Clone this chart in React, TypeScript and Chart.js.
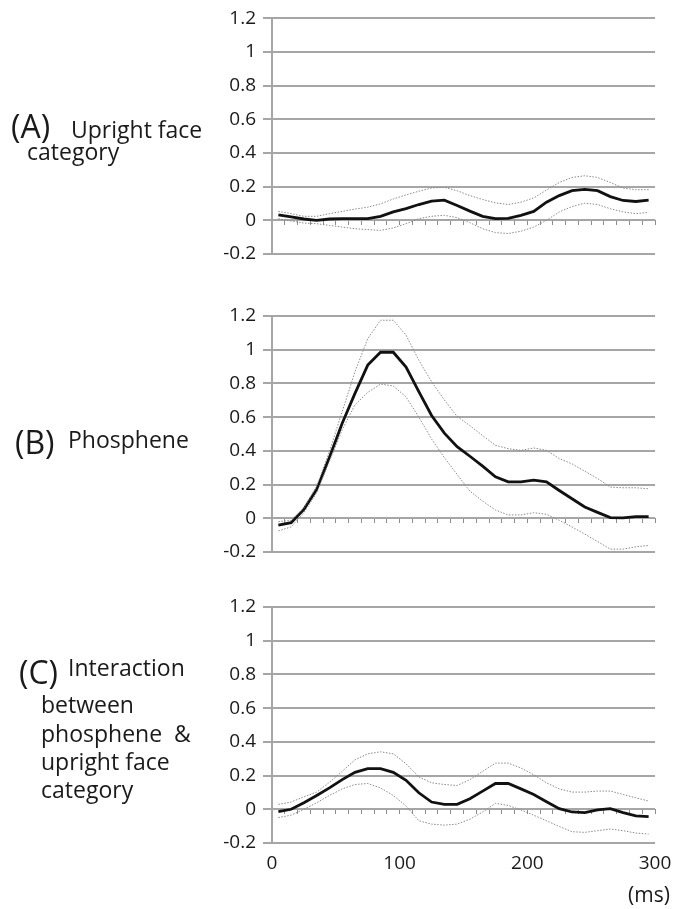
import React, { useEffect, useRef } from "react";
import { Chart, registerables } from "chart.js";

Chart.register(...registerables);

// Time points (ms), one per 10 ms bin
const TIMES_MS = [5, 15, 25, 35, 45, 55, 65, 75, 85, 95, 105, 115, 125, 135, 145, 155, 165, 175, 185, 195, 205, 215, 225, 235, 245, 255, 265, 275, 285, 295];

// (A) Upright face category
const A_MEAN = [0.033, 0.02, 0.008, 0.0, 0.008, 0.01, 0.01, 0.01, 0.024, 0.05, 0.07, 0.094, 0.114, 0.12, 0.088, 0.055, 0.024, 0.01, 0.012, 0.03, 0.053, 0.108, 0.147, 0.176, 0.184, 0.176, 0.141, 0.118, 0.112, 0.12];
const A_UPPER = [0.053, 0.04, 0.024, 0.024, 0.04, 0.053, 0.067, 0.078, 0.098, 0.127, 0.151, 0.173, 0.192, 0.196, 0.176, 0.147, 0.124, 0.104, 0.094, 0.108, 0.133, 0.18, 0.225, 0.255, 0.265, 0.255, 0.225, 0.192, 0.182, 0.182];
const A_LOWER = [0.01, -0.004, -0.016, -0.02, -0.03, -0.04, -0.05, -0.055, -0.06, -0.045, -0.02, 0.01, 0.024, 0.03, 0.016, -0.014, -0.05, -0.073, -0.078, -0.065, -0.04, 0.0, 0.05, 0.082, 0.102, 0.094, 0.069, 0.05, 0.04, 0.047];

// (B) Phosphene
const B_MEAN = [-0.041, -0.026, 0.053, 0.171, 0.362, 0.564, 0.741, 0.909, 0.985, 0.985, 0.897, 0.751, 0.61, 0.505, 0.425, 0.368, 0.309, 0.246, 0.216, 0.216, 0.226, 0.216, 0.165, 0.116, 0.067, 0.035, 0.004, 0.002, 0.01, 0.01];
const B_UPPER = [-0.02, -0.012, 0.063, 0.191, 0.397, 0.633, 0.869, 1.066, 1.175, 1.175, 1.086, 0.938, 0.81, 0.702, 0.604, 0.55, 0.49, 0.433, 0.413, 0.403, 0.417, 0.403, 0.354, 0.323, 0.279, 0.236, 0.185, 0.181, 0.181, 0.175];
const B_LOWER = [-0.075, -0.051, 0.033, 0.151, 0.338, 0.525, 0.673, 0.747, 0.796, 0.785, 0.72, 0.6, 0.47, 0.36, 0.26, 0.161, 0.102, 0.049, 0.02, 0.02, 0.033, 0.024, -0.012, -0.051, -0.094, -0.138, -0.183, -0.183, -0.169, -0.161];

// (C) Interaction between phosphene & upright face category
const C_MEAN = [-0.014, 0.0, 0.039, 0.082, 0.127, 0.176, 0.219, 0.241, 0.241, 0.219, 0.172, 0.098, 0.043, 0.029, 0.029, 0.063, 0.108, 0.153, 0.153, 0.121, 0.088, 0.045, 0.004, -0.016, -0.02, -0.004, 0.004, -0.02, -0.039, -0.043];
const C_UPPER = [0.029, 0.043, 0.074, 0.102, 0.16, 0.225, 0.294, 0.329, 0.341, 0.329, 0.27, 0.192, 0.157, 0.147, 0.141, 0.176, 0.225, 0.274, 0.274, 0.245, 0.205, 0.157, 0.121, 0.102, 0.102, 0.108, 0.108, 0.088, 0.068, 0.049];
const C_LOWER = [-0.049, -0.035, 0.0, 0.039, 0.082, 0.121, 0.147, 0.153, 0.127, 0.082, 0.02, -0.068, -0.088, -0.094, -0.088, -0.059, -0.016, 0.035, 0.023, -0.004, -0.035, -0.068, -0.102, -0.133, -0.137, -0.127, -0.117, -0.127, -0.141, -0.147];

// Axis ticks
const Y_TICKS = [-0.2, 0, 0.2, 0.4, 0.6, 0.8, 1, 1.2];
const X_TICK_LABELS = [0, 100, 200, 300];
const X_MINOR_TICKS = [0, 10, 20, 30, 40, 50, 60, 70, 80, 90, 100, 110, 120, 130, 140, 150, 160, 170, 180, 190, 200, 210, 220, 230, 240, 250, 260, 270, 280, 290, 300];

const FONT = "'Open Sans', Lato, sans-serif";
const GRID = "#a6a6a6";
const TEXT = "#1a1a1a";

type PanelProps = {
  mean: number[];
  upper: number[];
  lower: number[];
  top: number;
  height: number;
  padTop: number;
  padBottom: number;
  showX: boolean;
};

function Panel({ mean, upper, lower, top, height, padTop, padBottom, showX }: PanelProps) {
  const ref = useRef<HTMLCanvasElement | null>(null);
  useEffect(() => {
    if (!ref.current) return;
    const pts = (arr: number[]) => TIMES_MS.map((t, i) => ({ x: t, y: arr[i] }));
    const dotted = (arr: number[]) => ({
      data: pts(arr),
      borderColor: "#8a8a8a",
      borderWidth: 1,
      borderDash: [1.5, 1.5],
      pointRadius: 0,
      tension: 0,
      fill: false,
    });
    const scales: any = {
      x: {
        type: "linear",
        min: 0,
        max: 300,
        position: { y: 0 },
        afterBuildTicks: (s: any) => {
          s.ticks = X_MINOR_TICKS.map((v) => ({ value: v }));
        },
        ticks: { display: false },
        grid: { drawOnChartArea: false, drawTicks: true, tickLength: 5, color: "#8c8c8c", lineWidth: 1 },
        border: { display: false },
      },
      y: {
        type: "linear",
        min: -0.2,
        max: 1.2,
        position: "left",
        afterBuildTicks: (s: any) => {
          s.ticks = Y_TICKS.map((v) => ({ value: v }));
        },
        afterFit: (s: any) => {
          s.width = 62;
        },
        ticks: {
          callback: (v: any) => String(Math.round(Number(v) * 10) / 10),
          font: { family: FONT, size: 19 },
          color: TEXT,
          padding: 7,
        },
        grid: { color: GRID, lineWidth: 2, tickLength: 9 },
        border: { color: GRID, width: 2 },
      },
    };
    if (showX) {
      scales.x2 = {
        type: "linear",
        min: 0,
        max: 300,
        position: "bottom",
        afterBuildTicks: (s: any) => {
          s.ticks = X_TICK_LABELS.map((v) => ({ value: v }));
        },
        afterFit: (s: any) => {
          s.height = 40;
        },
        ticks: { font: { family: FONT, size: 19 }, color: TEXT, padding: 9, maxRotation: 0, autoSkip: false },
        grid: { display: false, drawTicks: false },
        border: { display: false },
      };
    }
    const chart = new Chart(ref.current, {
      type: "line",
      data: {
        datasets: [
          dotted(upper),
          dotted(lower),
          {
            data: pts(mean),
            borderColor: "#111111",
            borderWidth: 2.8,
            pointRadius: 0,
            tension: 0,
            fill: false,
          },
        ],
      },
      options: {
        responsive: false,
        animation: false,
        events: [],
        layout: { padding: { left: 210, right: 33, top: padTop, bottom: padBottom } },
        plugins: { legend: { display: false }, tooltip: { enabled: false } },
        scales,
      } as any,
    });
    return () => chart.destroy();
  }, []);
  return (
    <canvas
      ref={ref}
      width={688}
      height={height}
      style={{ position: "absolute", left: 0, top, width: 688, height }}
    />
  );
}

type Line = { text: string; left: number; baseline: number; size: number };

const LABEL_LINES: Line[] = [
  { text: "(A)", left: 11, baseline: 138, size: 32 },
  { text: "Upright face", left: 71, baseline: 139, size: 23 },
  { text: "category", left: 27, baseline: 161, size: 23 },
  { text: "(B)", left: 15, baseline: 454, size: 32 },
  { text: "Phosphene", left: 68, baseline: 449, size: 23 },
  { text: "(C)", left: 19, baseline: 684, size: 32 },
  { text: "Interaction", left: 68, baseline: 677, size: 23 },
  { text: "between", left: 41, baseline: 714, size: 23 },
  { text: "phosphene  &", left: 41, baseline: 743, size: 23 },
  { text: "upright face", left: 41, baseline: 771, size: 23 },
  { text: "category", left: 41, baseline: 799, size: 23 },
  { text: "(ms)", left: 628, baseline: 902, size: 21 },
];

export default function App() {
  return (
    <div
      style={{
        position: "absolute",
        left: 0,
        top: 0,
        width: 688,
        height: 909,
        background: "#ffffff",
        fontFamily: FONT,
        color: TEXT,
        overflow: "hidden",
      }}
    >
      <Panel mean={A_MEAN} upper={A_UPPER} lower={A_LOWER} top={0} height={280} padTop={17} padBottom={26} showX={false} />
      <Panel mean={B_MEAN} upper={B_UPPER} lower={B_LOWER} top={285} height={290} padTop={31} padBottom={23} showX={false} />
      <Panel mean={C_MEAN} upper={C_UPPER} lower={C_LOWER} top={580} height={329} padTop={27} padBottom={26} showX={true} />
      {LABEL_LINES.map((l, i) => (
        <div
          key={i}
          style={{
            position: "absolute",
            left: l.left,
            top: l.baseline - 1.069 * l.size,
            fontSize: l.size,
            lineHeight: `${1.362 * l.size}px`,
            whiteSpace: "pre",
          }}
        >
          {l.text}
        </div>
      ))}
    </div>
  );
}
